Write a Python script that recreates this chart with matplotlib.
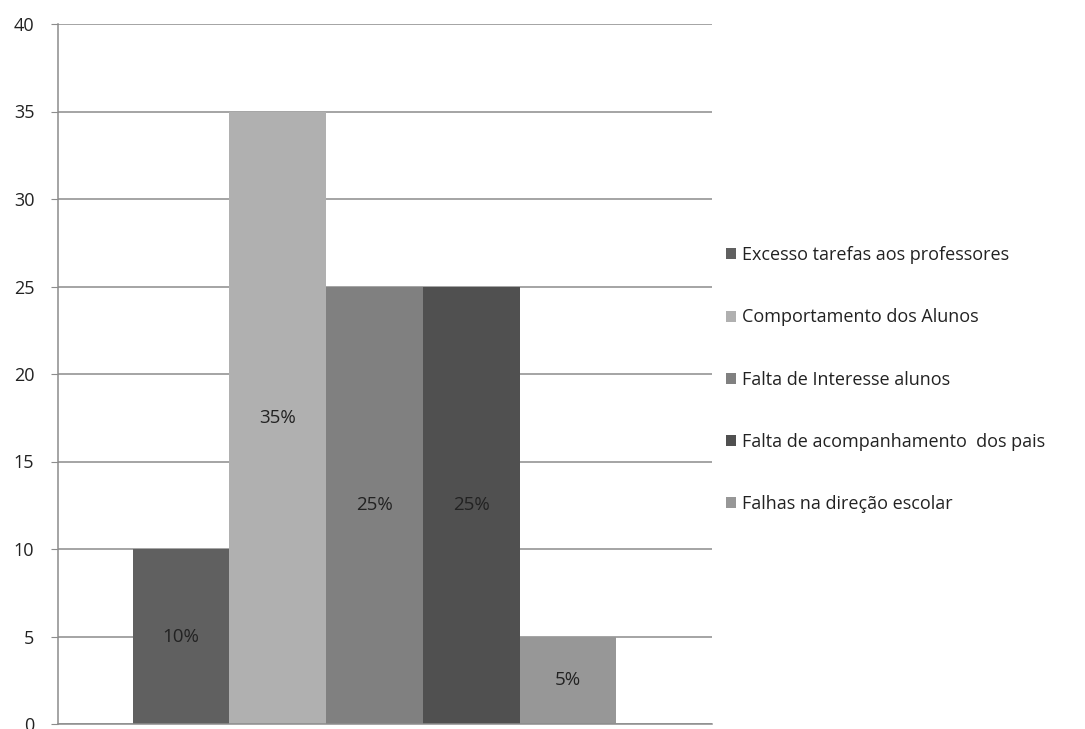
import numpy as np
import matplotlib.pyplot as plt
from matplotlib.patches import Patch

# Dados
categorias = ["Excesso tarefas aos professores", "Comportamento dos Alunos",
              "Falta de Interesse alunos", "Falta de acompanhamento  dos pais",
              "Falhas na direção escolar"]
valores = [10, 35, 25, 25, 5]
rotulos = ["10%", "35%", "25%", "25%", "5%"]
cores = ["#606060", "#b0b0b0", "#808080", "#505050", "#979797"]

plt.rcParams['font.family'] = ['Open Sans', 'DejaVu Sans']

fig = plt.figure(figsize=(10.85, 7.29), dpi=100, facecolor='white')
ax = fig.add_axes([58 / 1085, 1 - 724 / 729, 654 / 1085, 700 / 729])

x = np.arange(len(valores))
barras = ax.bar(x, valores, width=1.0, color=cores, zorder=2)

for b, r in zip(barras, rotulos):
    ax.text(b.get_x() + b.get_width() / 2, b.get_height() / 2, r,
            ha='center', va='center', fontsize=13.5, color='#222222', zorder=3)

ax.set_xlim(-0.5 - 75 / 97, 4.5 + 96 / 97)
ax.set_ylim(0, 40)
ax.set_yticks(np.arange(0, 41, 5))
ax.set_xticks([])
ax.yaxis.grid(True, color='#8c8c8c', linewidth=1.1, zorder=0)
ax.set_axisbelow(True)

for s in ['top', 'right']:
    ax.spines[s].set_visible(False)
ax.spines['left'].set_color('#8c8c8c')
ax.spines['bottom'].set_color('#8c8c8c')
ax.spines['left'].set_linewidth(1.1)
ax.spines['bottom'].set_linewidth(1.1)
ax.tick_params(axis='y', length=5, color='#8c8c8c', pad=12, labelsize=13, labelcolor='#222222')

handles = [Patch(facecolor=c, edgecolor='none') for c in cores]
fig.legend(handles, categorias, loc='upper left', bbox_to_anchor=(710 / 1085, 1 - 230 / 729),
           frameon=False, fontsize=13, handlelength=0.55, handleheight=0.55,
           handletextpad=0.3, labelspacing=2.45, labelcolor='#222222')

fig.savefig("out.png", dpi=100, facecolor='white')
